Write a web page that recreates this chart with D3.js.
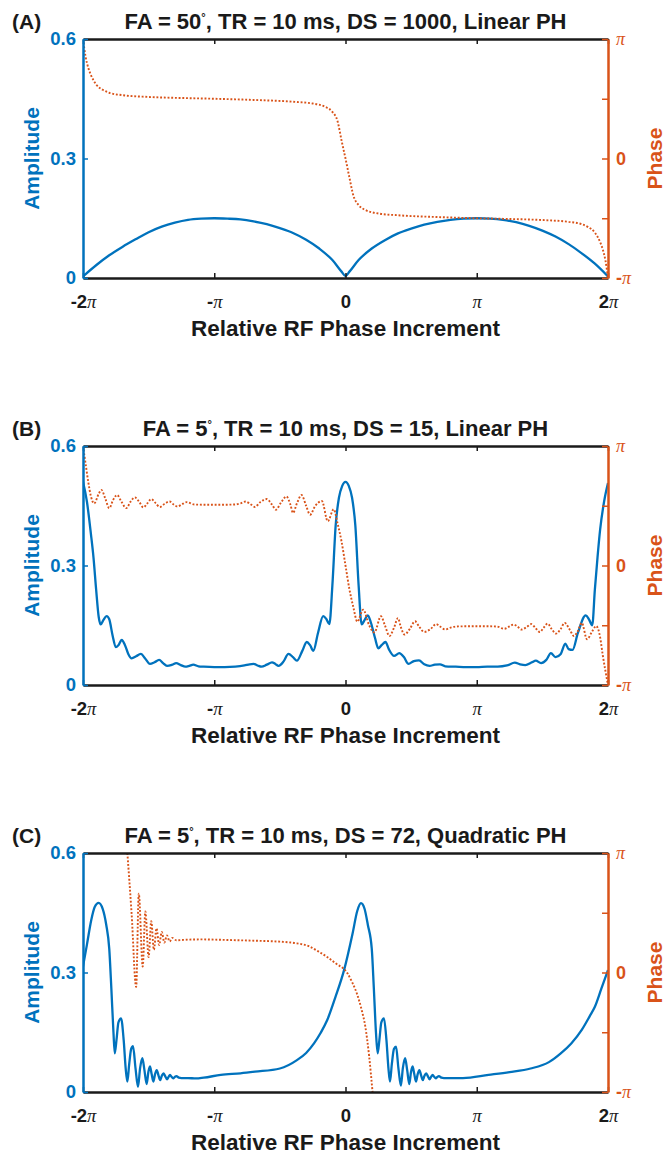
<!DOCTYPE html>
<html>
<head>
<meta charset="utf-8">
<script src="https://cdn.jsdelivr.net/npm/d3@7"></script>
<style>
body { margin: 0; background: #fff; }
text { font-family: "Liberation Sans", Arial, Helvetica, sans-serif; }
</style>
</head>
<body>
<script>
// x is in units of pi, phase in units of pi
var panelLabels = ["(A)", "(B)", "(C)"];
var titleStart = ["FA = 50", "FA = 5", "FA = 5"];
var titleEnd = [", TR = 10 ms, DS = 1000, Linear PH", ", TR = 10 ms, DS = 15, Linear PH", ", TR = 10 ms, DS = 72, Quadratic PH"];
var xTicks = [-2, -1, 0, 1, 2];
var xTickLabels = ["-2π", "-π", "0", "π", "2π"];
var ampTicks = [0, 0.3, 0.6];
var ampTickLabels = ["0", "0.3", "0.6"];
var phaseTicks = [-1, -0.5, 0, 0.5, 1];
var phaseTickLabels = ["-π", "", "0", "", "π"];

var ampA = [[-2.0, 0.004], [-1.9, 0.032], [-1.8, 0.057], [-1.7, 0.078], [-1.6, 0.097], [-1.5, 0.115],
  [-1.4, 0.129], [-1.3, 0.139], [-1.2, 0.146], [-1.1, 0.149], [-1.0, 0.150], [-0.9, 0.149], [-0.8, 0.147],
  [-0.7, 0.142], [-0.6, 0.135], [-0.5, 0.125], [-0.4, 0.113], [-0.3, 0.096], [-0.2, 0.074], [-0.1, 0.045],
  [-0.03, 0.016], [0.0, 0.005], [0.03, 0.016], [0.1, 0.045], [0.2, 0.074], [0.3, 0.095], [0.4, 0.112],
  [0.5, 0.124], [0.6, 0.134], [0.7, 0.141], [0.8, 0.146], [0.9, 0.149], [1.0, 0.150], [1.1, 0.149],
  [1.2, 0.146], [1.3, 0.140], [1.4, 0.131], [1.5, 0.119], [1.6, 0.104], [1.7, 0.085], [1.8, 0.062],
  [1.9, 0.036], [2.0, 0.004]];
var phaseA = [[-2.0, 1.0], [-1.98, 0.85], [-1.96, 0.76], [-1.94, 0.7], [-1.9, 0.62], [-1.85, 0.575],
  [-1.8, 0.55], [-1.7, 0.53], [-1.5, 0.515], [-1.2, 0.505], [-1.0, 0.5], [-0.7, 0.49], [-0.4, 0.475],
  [-0.25, 0.46], [-0.15, 0.43], [-0.1, 0.39], [-0.06, 0.31], [-0.03, 0.15], [0.0, 0.0], [0.03, -0.16],
  [0.06, -0.31], [0.1, -0.39], [0.15, -0.43], [0.25, -0.46], [0.4, -0.475], [0.7, -0.49], [1.0, -0.5],
  [1.2, -0.505], [1.5, -0.515], [1.7, -0.53], [1.8, -0.55], [1.85, -0.575], [1.9, -0.62], [1.94, -0.7],
  [1.96, -0.76], [1.98, -0.85], [2.0, -1.0]];

var ampB = [[-2.0, 0.51], [-1.97, 0.46], [-1.94, 0.38], [-1.92, 0.32], [-1.9, 0.24], [-1.88, 0.17],
  [-1.865, 0.152], [-1.845, 0.163], [-1.82, 0.173], [-1.8, 0.165], [-1.775, 0.125], [-1.75, 0.095],
  [-1.73, 0.1], [-1.705, 0.113], [-1.68, 0.1], [-1.655, 0.078], [-1.63, 0.067], [-1.595, 0.072],
  [-1.56, 0.078], [-1.525, 0.066], [-1.49, 0.053], [-1.455, 0.057], [-1.42, 0.063], [-1.39, 0.055],
  [-1.36, 0.048], [-1.32, 0.051], [-1.29, 0.055], [-1.255, 0.05], [-1.22, 0.046], [-1.19, 0.048],
  [-1.16, 0.051], [-1.12, 0.047], [-1.08, 0.046], [-1.0, 0.045], [-0.92, 0.045], [-0.84, 0.046],
  [-0.77, 0.049], [-0.73, 0.052], [-0.7, 0.053], [-0.67, 0.049], [-0.64, 0.046], [-0.6, 0.051],
  [-0.56, 0.057], [-0.535, 0.053], [-0.51, 0.048], [-0.47, 0.06], [-0.435, 0.078], [-0.4, 0.07],
  [-0.37, 0.061], [-0.33, 0.085], [-0.295, 0.108], [-0.27, 0.1], [-0.245, 0.086], [-0.21, 0.13],
  [-0.17, 0.173], [-0.145, 0.165], [-0.123, 0.153], [-0.1, 0.25], [-0.075, 0.4], [-0.05, 0.47],
  [-0.025, 0.5], [0.0, 0.51], [0.025, 0.5], [0.05, 0.47], [0.075, 0.4], [0.1, 0.25], [0.123, 0.152],
  [0.145, 0.163], [0.17, 0.175], [0.195, 0.155], [0.225, 0.118], [0.25, 0.092], [0.275, 0.1],
  [0.305, 0.108], [0.33, 0.09], [0.37, 0.073], [0.41, 0.08], [0.445, 0.07], [0.48, 0.053], [0.52, 0.06],
  [0.56, 0.062], [0.6, 0.052], [0.64, 0.048], [0.68, 0.051], [0.72, 0.052], [0.76, 0.047], [0.84, 0.046],
  [0.92, 0.045], [1.0, 0.045], [1.08, 0.046], [1.16, 0.046], [1.23, 0.049], [1.29, 0.056], [1.33, 0.052],
  [1.37, 0.05], [1.42, 0.057], [1.45, 0.061], [1.49, 0.055], [1.53, 0.063], [1.565, 0.08], [1.6, 0.07],
  [1.64, 0.078], [1.675, 0.104], [1.7, 0.09], [1.73, 0.088], [1.77, 0.13], [1.83, 0.175], [1.855, 0.165],
  [1.88, 0.15], [1.9, 0.24], [1.92, 0.32], [1.94, 0.39], [1.97, 0.46], [2.0, 0.507]];
var phaseB = [[-2.0, 1.0], [-1.98, 0.85], [-1.96, 0.7], [-1.94, 0.58], [-1.915, 0.52], [-1.88, 0.6],
  [-1.86, 0.633], [-1.83, 0.56], [-1.8, 0.48], [-1.77, 0.55], [-1.74, 0.59], [-1.71, 0.54], [-1.67, 0.48],
  [-1.64, 0.53], [-1.605, 0.57], [-1.57, 0.53], [-1.54, 0.486], [-1.51, 0.52], [-1.48, 0.556],
  [-1.445, 0.52], [-1.415, 0.49], [-1.38, 0.515], [-1.34, 0.536], [-1.31, 0.51], [-1.28, 0.494],
  [-1.25, 0.51], [-1.21, 0.53], [-1.15, 0.51], [-1.0, 0.508], [-0.85, 0.51], [-0.8, 0.52], [-0.76, 0.535],
  [-0.72, 0.51], [-0.69, 0.49], [-0.65, 0.53], [-0.6, 0.556], [-0.56, 0.51], [-0.53, 0.467], [-0.49, 0.53],
  [-0.45, 0.578], [-0.42, 0.51], [-0.4, 0.44], [-0.37, 0.52], [-0.335, 0.59], [-0.3, 0.5], [-0.27, 0.425],
  [-0.23, 0.5], [-0.18, 0.54], [-0.135, 0.37], [-0.09, 0.47], [-0.06, 0.35], [-0.03, 0.2], [0.0, 0.0],
  [0.03, -0.2], [0.06, -0.35], [0.09, -0.47], [0.135, -0.37], [0.18, -0.5], [0.22, -0.56], [0.27, -0.425],
  [0.3, -0.5], [0.335, -0.59], [0.37, -0.52], [0.4, -0.44], [0.42, -0.51], [0.45, -0.578], [0.49, -0.53],
  [0.53, -0.467], [0.56, -0.51], [0.6, -0.556], [0.65, -0.53], [0.69, -0.49], [0.72, -0.51], [0.76, -0.535],
  [0.8, -0.52], [0.85, -0.51], [1.0, -0.508], [1.15, -0.51], [1.21, -0.53], [1.25, -0.51], [1.28, -0.494],
  [1.31, -0.51], [1.34, -0.536], [1.38, -0.515], [1.415, -0.49], [1.445, -0.52], [1.48, -0.556],
  [1.51, -0.52], [1.54, -0.486], [1.57, -0.53], [1.605, -0.57], [1.64, -0.53], [1.67, -0.48], [1.71, -0.54],
  [1.74, -0.59], [1.77, -0.55], [1.8, -0.48], [1.84, -0.617], [1.88, -0.55], [1.91, -0.506], [1.94, -0.6],
  [1.96, -0.75], [1.98, -0.88], [2.0, -1.0]];

var ampC = [[-2.0, 0.315], [-1.97, 0.37], [-1.937, 0.432], [-1.91, 0.465], [-1.881, 0.475], [-1.85, 0.46],
  [-1.823, 0.42], [-1.8, 0.36], [-1.784, 0.26], [-1.768, 0.15], [-1.758, 0.097], [-1.745, 0.13],
  [-1.73, 0.175], [-1.71, 0.185], [-1.69, 0.13], [-1.675, 0.06], [-1.662, 0.026], [-1.648, 0.07],
  [-1.633, 0.108], [-1.619, 0.115], [-1.6, 0.06], [-1.581, 0.013], [-1.565, 0.06], [-1.548, 0.085],
  [-1.532, 0.055], [-1.515, 0.02], [-1.502, 0.05], [-1.49, 0.064], [-1.477, 0.045], [-1.464, 0.026],
  [-1.451, 0.045], [-1.438, 0.055], [-1.425, 0.042], [-1.412, 0.03], [-1.4, 0.04], [-1.387, 0.047],
  [-1.374, 0.04], [-1.36, 0.032], [-1.348, 0.038], [-1.337, 0.043], [-1.325, 0.038], [-1.313, 0.034],
  [-1.3, 0.038], [-1.288, 0.04], [-1.27, 0.036], [-1.25, 0.035], [-1.2, 0.035], [-1.14, 0.034],
  [-1.08, 0.036], [-0.95, 0.043], [-0.8, 0.047], [-0.69, 0.051], [-0.5, 0.059], [-0.37, 0.08],
  [-0.3, 0.098], [-0.24, 0.122], [-0.19, 0.148], [-0.14, 0.18], [-0.075, 0.24], [-0.011, 0.306],
  [0.054, 0.398], [0.09, 0.455], [0.118, 0.474], [0.145, 0.46], [0.17, 0.42], [0.2, 0.36], [0.216, 0.26],
  [0.232, 0.15], [0.245, 0.097], [0.258, 0.13], [0.273, 0.175], [0.293, 0.185], [0.312, 0.13],
  [0.327, 0.06], [0.339, 0.026], [0.353, 0.07], [0.369, 0.108], [0.385, 0.114], [0.403, 0.06],
  [0.422, 0.016], [0.437, 0.06], [0.454, 0.085], [0.47, 0.055], [0.486, 0.02], [0.499, 0.05],
  [0.511, 0.064], [0.524, 0.045], [0.537, 0.026], [0.55, 0.045], [0.563, 0.055], [0.576, 0.042],
  [0.589, 0.03], [0.601, 0.04], [0.614, 0.047], [0.627, 0.04], [0.64, 0.032], [0.652, 0.038],
  [0.664, 0.043], [0.676, 0.038], [0.688, 0.034], [0.7, 0.038], [0.712, 0.04], [0.73, 0.036],
  [0.75, 0.035], [0.8, 0.035], [0.895, 0.035], [1.09, 0.043], [1.25, 0.05], [1.41, 0.059], [1.55, 0.075],
  [1.64, 0.097], [1.72, 0.122], [1.8, 0.156], [1.86, 0.19], [1.9, 0.214], [1.95, 0.26], [2.0, 0.306]];
var phaseC = [[-1.662, 1.0], [-1.63, 0.5], [-1.595, -0.12], [-1.575, 0.66], [-1.545, 0.05], [-1.525, 0.51],
  [-1.5, 0.13], [-1.48, 0.43], [-1.46, 0.19], [-1.44, 0.37], [-1.42, 0.23], [-1.4, 0.34], [-1.38, 0.25],
  [-1.36, 0.31], [-1.34, 0.26], [-1.32, 0.29], [-1.29, 0.27], [-1.2, 0.275], [-1.1, 0.277], [-0.9, 0.272],
  [-0.69, 0.266], [-0.5, 0.258], [-0.37, 0.244], [-0.28, 0.22], [-0.205, 0.175], [-0.14, 0.13],
  [-0.075, 0.077], [0.015, -0.007], [0.05, -0.08], [0.086, -0.174], [0.12, -0.3], [0.151, -0.453],
  [0.18, -0.7], [0.206, -1.0]];

var amps = [ampA, ampB, ampC];
var phases = [phaseA, phaseB, phaseC];

var W = 666, H = 1157;
var left = 83, right = 608, plotH = 239;
var tops = [39, 446, 853];
var blue = "#0072BD", orange = "#D95319", ink = "#1a1a1a";
var piFont = "'Liberation Serif', 'DejaVu Serif', serif";

var svg = d3.select("body").append("svg").attr("width", W).attr("height", H);
var x = d3.scaleLinear().domain([-2, 2]).range([left, right]);

// write a label like "-2π" with the pi in a serif face
function piText(sel, label) {
    sel.text(null);
    var parts = label.split("π");
    sel.append("tspan").attr("font-weight", "bold").text(parts[0]);
    if (label.indexOf("π") >= 0) {
        sel.append("tspan")
            .attr("font-family", piFont)
            .attr("font-style", "italic")
            .attr("font-weight", "normal")
            .text("π");
    }
}

panelLabels.forEach(function (lab, i) {
    var top = tops[i], bottom = top + plotH;
    var yA = d3.scaleLinear().domain([0, 0.6]).range([bottom, top]);
    var yP = d3.scaleLinear().domain([-1, 1]).range([bottom, top]);
    var g = svg.append("g");

    g.append("clipPath").attr("id", "clip" + i)
        .append("rect")
        .attr("x", left).attr("y", top)
        .attr("width", right - left).attr("height", plotH);

    var lineA = d3.line()
        .x(function (d) { return x(d[0]); })
        .y(function (d) { return yA(d[1]); })
        .curve(d3.curveMonotoneX);
    var lineP = d3.line()
        .x(function (d) { return x(d[0]); })
        .y(function (d) { return yP(d[1]); })
        .curve(d3.curveMonotoneX);

    g.append("path").datum(amps[i])
        .attr("clip-path", "url(#clip" + i + ")")
        .attr("d", lineA)
        .attr("fill", "none")
        .attr("stroke", blue)
        .attr("stroke-width", 2.3);

    g.append("path").datum(phases[i])
        .attr("clip-path", "url(#clip" + i + ")")
        .attr("d", lineP)
        .attr("fill", "none")
        .attr("stroke", orange)
        .attr("stroke-width", 1.9)
        .attr("stroke-dasharray", "1.9,1.8");

    // top + bottom (black)
    var gt = g.append("g").attr("transform", "translate(0," + top + ")")
        .call(d3.axisTop(x).tickValues(xTicks).tickSizeInner(-5).tickSizeOuter(0).tickFormat(""));
    var gb = g.append("g").attr("transform", "translate(0," + bottom + ")")
        .call(d3.axisBottom(x).tickValues(xTicks).tickSizeInner(-5).tickSizeOuter(0).tickPadding(17).tickFormat(""));
    [gt, gb].forEach(function (ax) {
        ax.select(".domain").attr("stroke", ink).attr("stroke-width", 2.5);
        ax.selectAll(".tick line").attr("stroke", ink).attr("stroke-width", 1.5);
    });
    gb.selectAll(".tick text")
        .attr("fill", ink)
        .attr("font-size", 18.5)
        .each(function (d, k) { piText(d3.select(this), xTickLabels[k]); });

    // left (amplitude)
    var gl = g.append("g").attr("transform", "translate(" + left + ",0)")
        .call(d3.axisLeft(yA).tickValues(ampTicks).tickSizeInner(-5).tickSizeOuter(0).tickPadding(7)
            .tickFormat(function (d, k) { return ampTickLabels[k]; }));
    gl.select(".domain").attr("stroke", blue).attr("stroke-width", 2.5);
    gl.selectAll(".tick line").attr("stroke", blue).attr("stroke-width", 1.5);
    gl.selectAll(".tick text")
        .attr("fill", blue)
        .attr("font-size", 18.5)
        .attr("font-weight", "bold")
        .attr("font-family", "'Liberation Sans', Arial, sans-serif");

    // right (phase)
    var gr = g.append("g").attr("transform", "translate(" + right + ",0)")
        .call(d3.axisRight(yP).tickValues(phaseTicks).tickSizeInner(-6).tickSizeOuter(0).tickPadding(8).tickFormat(""));
    gr.select(".domain").attr("stroke", orange).attr("stroke-width", 2.5);
    gr.selectAll(".tick line").attr("stroke", orange).attr("stroke-width", 1.5);
    gr.selectAll(".tick text")
        .attr("fill", orange)
        .attr("font-size", 18)
        .each(function (d, k) { piText(d3.select(this), phaseTickLabels[k]); });

    // axis titles
    g.append("text")
        .attr("transform", "translate(34," + (top + plotH / 2) + ") rotate(-90)")
        .attr("text-anchor", "middle")
        .attr("dy", "0.25em")
        .attr("font-size", 21)
        .attr("font-weight", "bold")
        .attr("fill", blue)
        .text("Amplitude");
    g.append("text")
        .attr("transform", "translate(654," + (top + plotH / 2) + ") rotate(-90)")
        .attr("text-anchor", "middle")
        .attr("dy", "0.36em")
        .attr("font-size", 21)
        .attr("font-weight", "bold")
        .attr("fill", orange)
        .text("Phase");
    g.append("text")
        .attr("x", (left + right) / 2)
        .attr("y", bottom + 58)
        .attr("text-anchor", "middle")
        .attr("font-size", 22.5)
        .attr("font-weight", "bold")
        .attr("fill", ink)
        .text("Relative RF Phase Increment");

    // title with degree sign
    var t = g.append("text")
        .attr("x", (left + right) / 2)
        .attr("y", top - 10)
        .attr("text-anchor", "middle")
        .attr("font-size", 22)
        .attr("font-weight", "bold")
        .attr("fill", ink);
    t.append("tspan").text(titleStart[i]);
    t.append("tspan").attr("dy", -8).attr("font-size", 11).text("°");
    t.append("tspan").attr("dy", 8).text(titleEnd[i]);

    g.append("text")
        .attr("x", 12)
        .attr("y", top - 10)
        .attr("font-size", 21)
        .attr("font-weight", "bold")
        .attr("fill", ink)
        .text(lab);
});
</script>
</body>
</html>
